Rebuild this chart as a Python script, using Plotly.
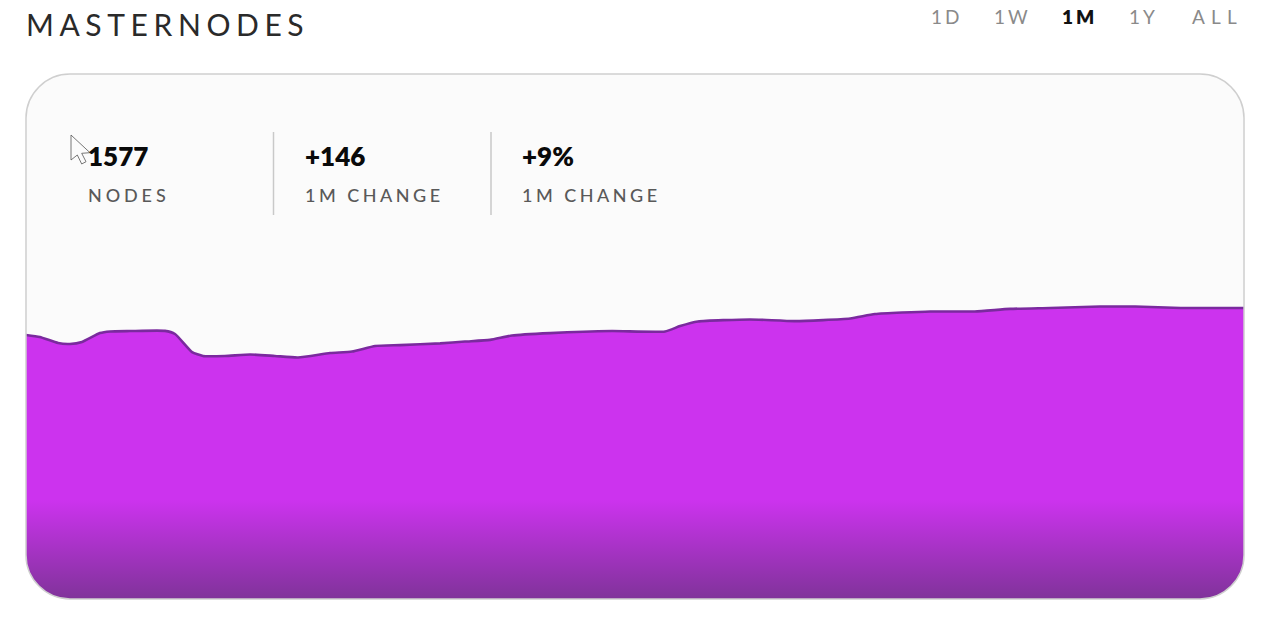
import json
import plotly.graph_objects as go

W, H = 1280, 631

# --- data ---
days = [0, 0.34, 0.79, 1.08, 1.38, 1.82, 2.07, 2.56, 3.42, 3.67, 4.09, 4.36, 4.9, 5.52, 6.13, 6.7,
        7.49, 8.03, 8.6, 9.21, 10.2, 10.81, 11.43, 11.97, 12.91, 14.43, 15.74, 16.11, 16.55, 17.83,
        18.94, 20.3, 20.91, 22.27, 23.37, 24.24, 25.22, 26.45, 27.32, 28.44, 30]
nodes = [1431, 1420, 1387, 1382, 1393, 1441, 1450, 1452, 1453, 1436, 1338, 1317, 1317, 1325, 1317, 1309,
         1333, 1341, 1371, 1376, 1385, 1395, 1404, 1428, 1441, 1452, 1450, 1479, 1504, 1515,
         1506, 1520, 1544, 1558, 1558, 1572, 1577, 1585, 1585, 1577, 1577]
title_text = "MASTERNODES"
range_tabs = ["1D", "1W", "1M", "1Y", "ALL"]
active_tab = "1M"
stat_values = ["1577", "+146", "+9%"]
stat_labels = ["NODES", "1M CHANGE", "1M CHANGE"]

# --- layout constants (pixels) ---
CL, CR, CT, CB = 26, 1244, 74, 599
RAD = 44
Y_MAX = 2845
GRAD_STOP = 535
PX = lambda x: x / W
PY = lambda y: 1 - y / H


def path(points):
    """Build an SVG path in paper coordinates from (cmd, px, py, ...) tuples."""
    out = []
    for p in points:
        cmd, coords = p[0], p[1:]
        parts = []
        for i in range(0, len(coords), 2):
            parts.append(f"{PX(coords[i]):.5f},{PY(coords[i + 1]):.5f}")
        out.append(cmd + " " + " ".join(parts))
    return " ".join(out)


def card_path():
    k = RAD * 0.45
    return path([
        ("M", CL + RAD, CT), ("L", CR - RAD, CT),
        ("C", CR - k, CT, CR, CT + k, CR, CT + RAD),
        ("L", CR, CB - RAD),
        ("C", CR, CB - k, CR - k, CB, CR - RAD, CB),
        ("L", CL + RAD, CB),
        ("C", CL + k, CB, CL, CB - k, CL, CB - RAD),
        ("L", CL, CT + RAD),
        ("C", CL, CT + k, CL + k, CT, CL + RAD, CT),
    ]) + " Z"


def corner_mask(cx, cy, sx, sy):
    # white square corner minus the quarter-round of the card
    k = RAD * 0.55
    ox, oy = cx + sx * 3, cy + sy * 3
    return path([
        ("M", ox, oy), ("L", cx - sx * RAD, oy), ("L", cx - sx * RAD, cy),
        ("C", cx - sx * (RAD - k), cy, cx, cy - sy * (RAD - k), cx, cy - sy * RAD),
        ("L", ox, cy - sy * RAD),
    ]) + " Z"


shapes = [dict(type="path", xref="paper", yref="paper", path=card_path(), fillcolor="#fbfbfb",
               line=dict(width=0), layer="below")]
for cx, cy, sx, sy in [(CL, CT, -1, -1), (CR, CT, 1, -1), (CL, CB, -1, 1), (CR, CB, 1, 1)]:
    shapes.append(dict(type="path", xref="paper", yref="paper", path=corner_mask(cx, cy, sx, sy),
                       fillcolor="#ffffff", line=dict(width=0), layer="above"))
shapes.append(dict(type="path", xref="paper", yref="paper", path=card_path(),
                   fillcolor="rgba(0,0,0,0)", line=dict(color="#cfcfcf", width=1.5), layer="above"))
for dx in (273.5, 491):
    shapes.append(dict(type="line", xref="paper", yref="paper", x0=PX(dx), x1=PX(dx), y0=PY(132), y1=PY(215),
                       line=dict(color="#c9c9c9", width=1.5), layer="above"))
# mouse pointer captured in the screenshot
shapes.append(dict(type="path", xref="paper", yref="paper",
                   path=path([("M", 71, 135), ("L", 71, 160), ("L", 77.3, 155), ("L", 81.7, 164),
                              ("L", 86, 161.7), ("L", 81.7, 153.3), ("L", 90, 152.7)]) + " Z",
                   fillcolor="#fbfbfb", line=dict(color="#555555", width=0.8), layer="above"))

annotations = []


def text(s, x, y, size, color, weight=400, anchor="left"):
    annotations.append(dict(text=s, xref="paper", yref="paper", x=PX(x), y=PY(y), xanchor=anchor, yanchor="middle",
                            showarrow=False, borderpad=0,
                            font=dict(family="Lato", size=size, color=color, weight=weight)))


text(title_text, 24.5, 24, 30, "#2a2a2a", 400)
for tab, x in zip(range_tabs, [929.5, 992.5, 1060.5, 1128, 1190.5]):
    if tab == active_tab:
        text(tab, x, 16.5, 19, "#111111", 800)
    else:
        text(tab, x, 16.5, 19, "#8a8a8a", 400)
for val, lab, x in zip(stat_values, stat_labels, [86.5, 303.5, 520.5]):
    text(val, x, 156, 26, "#0a0a0a", 800)
    text(lab, x, 194.5, 18, "#595959", 500)

fig = go.Figure(go.Scatter(
    x=days, y=nodes, mode="lines", fill="tozeroy",
    line=dict(color="#7a2a9e", width=2.6, shape="spline", smoothing=0.5),
    fillgradient=dict(type="vertical", start=0, stop=GRAD_STOP,
                      colorscale=[[0, "#80339a"], [1, "#cc33ee"]]),
    hoverinfo="x+y", showlegend=False,
))
fig.update_layout(
    width=W, height=H, margin=dict(l=0, r=0, t=0, b=0, pad=0),
    paper_bgcolor="#ffffff", plot_bgcolor="rgba(0,0,0,0)",
    xaxis=dict(domain=[PX(CL), PX(CR)], range=[0, 30], visible=False, fixedrange=True),
    yaxis=dict(domain=[PY(CB), PY(CT)], range=[0, Y_MAX], visible=False, fixedrange=True),
    shapes=shapes, annotations=annotations,
)

spacing = {"MASTERNODES": 5.6, "1D": 3, "1W": 3, "1M": 3, "1Y": 3, "ALL": 6.2,
           "NODES": 3.9, "1M CHANGE": 3.5}
post = """
document.documentElement.style.margin='0';document.body.style.margin='0';
var SP=%s;
function applySpacing(){
  document.querySelectorAll('.annotation-text').forEach(function(t){
    var s=SP[t.textContent];
    if(t.dataset.sp) return;
    var b=t.getBBox();
    t.style.textAnchor='start';
    t.setAttribute('x',b.x);
    if(s) t.style.letterSpacing=s+'px';
    t.dataset.sp='1';
  });
}
applySpacing();
""" % json.dumps(spacing)
fig.write_html("out.html", post_script=post, config=dict(displayModeBar=False))
